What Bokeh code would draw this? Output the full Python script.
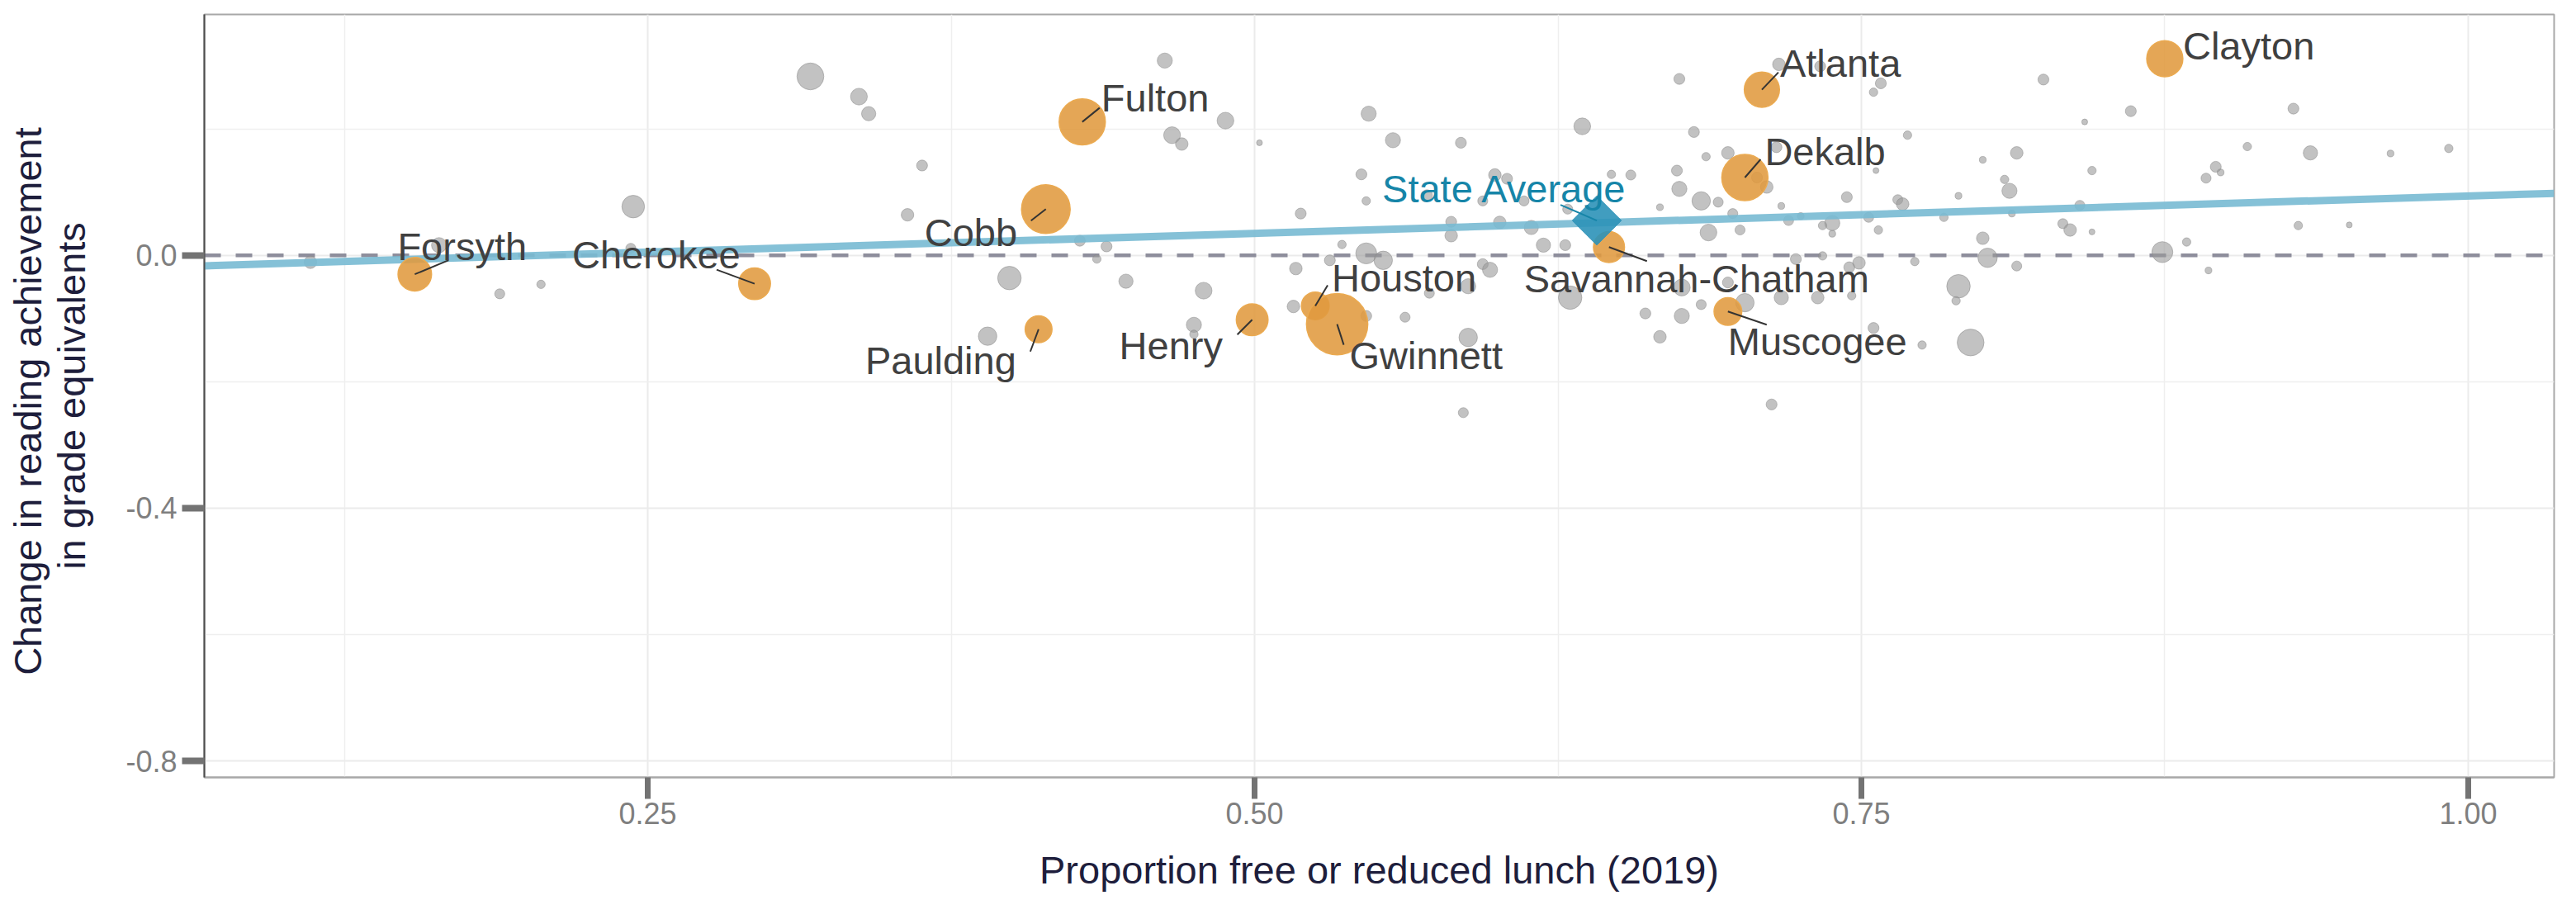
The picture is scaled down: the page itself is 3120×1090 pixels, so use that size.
import numpy as np
from bokeh.plotting import figure
from bokeh.models import Range1d, FixedTicker, PrintfTickFormatter
from bokeh.core.properties import value
from bokeh.embed import file_html
from bokeh.resources import INLINE

# ---------------- data ----------------
gray_frl = [0.111, 0.164, 0.189, 0.206, 0.244, 0.243,
            0.317, 0.337, 0.341, 0.363, 0.357, 0.428, 0.439, 0.435, 0.399, 0.447, 0.390,
            0.463, 0.488, 0.466, 0.470, 0.502, 0.547, 0.557, 0.585, 0.635, 0.544, 0.546,
            0.519, 0.599, 0.604, 0.571, 0.594, 0.611, 0.629, 0.581, 0.601, 0.614, 0.581,
            0.536, 0.619, 0.628, 0.546, 0.553, 0.531, 0.517, 0.594, 0.597, 0.588, 0.572,
            0.630, 0.479, 0.516, 0.546, 0.562, 0.475, 0.475, 0.588, 0.586,
            0.716, 0.733, 0.758, 0.755, 0.675, 0.825, 0.681, 0.769, 0.814, 0.800, 0.842,
            0.695, 0.686, 0.715, 0.674, 0.655, 0.647, 0.675, 0.684, 0.691, 0.667, 0.711,
            0.707, 0.717, 0.697, 0.725, 0.720, 0.738, 0.734, 0.738, 0.753, 0.757, 0.744,
            0.765, 0.767, 0.790, 0.809, 0.811, 0.812, 0.833, 0.836, 0.840, 0.845, 0.687,
            0.700, 0.800, 0.802, 0.814, 0.772, 0.723, 0.734, 0.749, 0.745, 0.695, 0.676,
            0.717, 0.732, 0.746, 0.702, 0.684, 0.790, 0.789, 0.661, 0.676, 0.667, 0.755,
            0.775, 0.795, 0.713, 0.756,
            0.861, 0.928, 0.909, 0.935, 0.968, 0.992, 0.845, 0.896, 0.898, 0.892, 0.930,
            0.951, 0.884, 0.874, 0.893, 0.784]
gray_change = [-0.011, 0.016, -0.061, -0.046, 0.077, 0.011,
               0.283, 0.251, 0.224, 0.142, 0.064, 0.023, 0.014, -0.006, -0.036, -0.041, -0.128,
               0.308, 0.213, 0.190, 0.176, 0.178, 0.224, 0.182, 0.178, 0.204, 0.128, 0.086,
               0.066, 0.127, 0.121, 0.095, 0.086, 0.086, 0.073, 0.053, 0.052, 0.044, 0.031,
               0.017, 0.016, 0.016, 0.003, -0.008, -0.008, -0.021, -0.014, -0.023, -0.049, -0.060,
               -0.067, -0.056, -0.081, -0.096, -0.098, -0.110, -0.125, -0.130, -0.249,
               0.302, 0.299, 0.272, 0.258, 0.279, 0.278, 0.195, 0.190, 0.162, 0.151, 0.211,
               0.162, 0.156, 0.171, 0.134, 0.127, 0.128, 0.105, 0.086, 0.084, 0.076, 0.108,
               0.123, 0.078, 0.066, 0.062, 0.055, 0.051, 0.047, 0.034, 0.060, 0.040, 0.092,
               0.088, 0.081, 0.094, 0.120, 0.102, 0.066, 0.050, 0.040, 0.079, 0.037, 0.036,
               0.040, 0.027, -0.004, -0.017, -0.010, -0.006, -0.001, -0.012, -0.019, -0.043, -0.051,
               -0.067, -0.067, -0.064, -0.075, -0.078, -0.049, -0.072, -0.092, -0.096, -0.129, -0.115,
               -0.142, -0.138, -0.236, 0.134,
               0.228, 0.232, 0.172, 0.162, 0.161, 0.169, 0.134, 0.140, 0.131, 0.122, 0.047,
               0.048, 0.021, 0.005, -0.024, 0.060]
gray_enroll = [6.9, 10.0, 4.4, 3.1, 22.4, 4.4,
               31.5, 12.3, 8.9, 5.2, 6.9, 5.2, 5.2, 3.1, 24.1, 8.9, 14.9,
               10.0, 12.3, 12.3, 6.9, 1.5, 10.0, 10.0, 5.2, 12.3, 5.2, 3.1,
               5.2, 6.9, 5.2, 5.2, 4.4, 4.4, 4.4, 5.2, 6.9, 8.9, 6.9,
               3.1, 8.9, 5.2, 19.2, 14.9, 5.2, 6.9, 5.2, 10.0, 10.0, 4.4,
               24.1, 12.3, 6.9, 5.2, 4.4, 10.0, 3.1, 14.9, 4.4,
               6.9, 5.2, 5.2, 3.1, 5.2, 5.2, 5.2, 3.1, 6.9, 2.0, 1.5,
               6.9, 3.1, 5.2, 5.2, 4.4, 3.1, 10.0, 14.9, 4.4, 2.0, 6.9,
               5.2, 2.0, 4.4, 2.0, 4.4, 10.0, 3.1, 2.0, 4.4, 3.1, 5.2,
               4.4, 6.9, 2.0, 3.1, 10.0, 2.0, 4.4, 6.9, 4.4, 1.5, 12.3,
               4.4, 6.9, 16.3, 4.4, 3.1, 5.2, 3.1, 6.9, 5.2, 5.2, 12.3,
               8.9, 6.9, 3.1, 14.9, 4.4, 24.1, 3.1, 5.2, 10.0, 6.9, 5.2,
               3.1, 31.5, 5.2, 1.5,
               5.2, 5.2, 3.1, 8.9, 2.0, 3.1, 3.1, 5.2, 2.0, 4.4, 3.1,
               1.5, 3.1, 19.2, 2.0, 3.1]

districts = ["Forsyth", "Cherokee", "Cobb", "Fulton", "Paulding", "Henry", "Houston",
             "Gwinnett", "Savannah-Chatham", "Atlanta", "Dekalb", "Muscogee", "Clayton"]
dist_frl = [0.154, 0.294, 0.414, 0.429, 0.411, 0.499, 0.525, 0.534, 0.646, 0.709, 0.702,
            0.695, 0.875]
dist_change = [-0.030, -0.045, 0.073, 0.211, -0.117, -0.102, -0.080, -0.109, 0.013, 0.262,
               0.123, -0.089, 0.311]
dist_enroll = [49, 44, 103, 93, 31.5, 44, 33.5, 164, 42, 54, 93, 33.5, 57]

state_label = "State Average"
state_frl = 0.641
state_change = 0.055

trend_intercept = -0.0246
trend_slope = 0.1184

x_ticks = [0.25, 0.50, 0.75, 1.00]
x_minor = [0.125, 0.375, 0.625, 0.875]
y_ticks = [-0.8, -0.4, 0.0]
y_minor = [-0.6, -0.2, 0.2]

x_title = "Proportion free or reduced lunch (2019)"
y_title = "Change in reading  achievement\nin grade equivalents"

# ---------------- layout / style ----------------
W, H = 3112, 1082
ML, MR, MT, MB = 247, 19, 17, 141
X0, X1 = 0.0673, 1.0354
Y0, Y1 = -0.826, 0.381
FW, FH = W - ML - MR, H - MT - MB
SX, SY = FW / (X1 - X0), FH / (Y1 - Y0)   # pixels per data unit

FONT = "Liberation Sans"
ORANGE = "#E09A3F"
TEAL = "#1685A8"
LABEL_SHIFT = -15   # pixels, applied to every label baseline

def diam(e):
    return 5.8 * np.sqrt(np.asarray(e, dtype=float))

# label placement (pixels: text left/baseline and leader end, relative to point)
label_off = {
    "Forsyth": (-21, -19, 41, -17),
    "Cherokee": (-221, -20, -46, -17),
    "Cobb": (-147, 43, -18, 14),
    "Fulton": (23, -14, 21, -17),
    "Paulding": (-210, 53, -10, 27),
    "Henry": (-161, 46, -18, 18),
    "Houston": (20, -19, 15, -25),
    "Gwinnett": (15, 53, 8, 25),
    "Savannah-Chatham": (-103, 53, 46, 17),
    "Atlanta": (22, -17, 20, -21),
    "Dekalb": (24, -17, 19, -22),
    "Muscogee": (0, 51, 47, 16),
    "Clayton": (22, -1, 0, 0),
}
state_off = (-260, -24, -44, -19)

p = figure(width=W, height=H, output_backend="svg", toolbar_location=None,
           x_range=Range1d(X0, X1), y_range=Range1d(Y0, Y1),
           min_border_left=ML, min_border_right=MR, min_border_top=MT,
           min_border_bottom=MB)
p.background_fill_color = "white"
p.border_fill_color = "white"
p.outline_line_color = "#A8A8A8"
p.outline_line_width = 2

# grids
p.xaxis.ticker = FixedTicker(ticks=x_ticks, minor_ticks=x_minor)
p.yaxis.ticker = FixedTicker(ticks=y_ticks, minor_ticks=y_minor)
for g in (p.xgrid, p.ygrid):
    g.grid_line_color = "#EBEBEB"
    g.grid_line_width = 2
    g.minor_grid_line_color = "#EFEFEF"
    g.minor_grid_line_width = 1.5

# axes
p.xaxis.formatter = PrintfTickFormatter(format="%.2f")
p.yaxis.formatter = PrintfTickFormatter(format="%.1f")
for ax in (p.xaxis, p.yaxis):
    ax.major_tick_in = 0
    ax.minor_tick_line_color = None
    ax.major_tick_line_color = "#737373"
    ax.major_label_text_font = FONT
    ax.major_label_text_font_size = "36px"
    ax.major_label_text_color = "#7F7F7F"
    ax.axis_label_text_font = FONT
    ax.axis_label_text_font_size = "47px"
    ax.axis_label_text_font_style = "normal"
    ax.axis_label_text_color = "#1E1E3C"
p.xaxis.major_tick_out = 26
p.xaxis.major_tick_line_width = 7
p.xaxis.major_label_standoff = 4
p.xaxis.axis_line_color = "#A8A8A8"
p.xaxis.axis_line_width = 2
p.xaxis.axis_label = x_title
p.xaxis.axis_label_standoff = 26
p.yaxis.major_tick_out = 27
p.yaxis.major_tick_line_width = 8
p.yaxis.major_label_standoff = 6
p.yaxis.axis_line_color = "#4D4D4D"
p.yaxis.axis_line_width = 2
p.yaxis.axis_label = y_title
p.yaxis.axis_label_standoff = 36
p.yaxis.axis_label_text_line_height = 1.0

# zero reference line
p.line(x=[X0, X1], y=[0, 0], line_color="#8E8E9C", line_width=4.5, line_dash="20 18")

# other districts
p.scatter(x=gray_frl, y=gray_change, size=diam(gray_enroll), marker="circle",
          fill_color="#999999", fill_alpha=0.6, line_color="#888888", line_alpha=0.5,
          line_width=1)

# trend line
tx = np.array([X0, X1])
p.line(x=tx, y=trend_intercept + trend_slope * tx, line_color="#78BAD3",
       line_width=9, line_alpha=0.9)

# highlighted districts
p.scatter(x=dist_frl, y=dist_change, size=diam(dist_enroll), marker="circle",
          fill_color=ORANGE, fill_alpha=0.88, line_color="#EBAA50", line_width=1.5)

# state average
p.scatter(x=[state_frl], y=[state_change], size=42, marker="square", angle=np.pi / 4,
          fill_color="#2C92B8", fill_alpha=0.9, line_color="#2C92B8")

# leader lines and labels
lx0, ly0, lx1, ly1, tx_, ty_, names = [], [], [], [], [], [], []
for name, fx, fy in zip(districts, dist_frl, dist_change):
    dx, dy, ex, ey = label_off[name]
    dy += LABEL_SHIFT
    if ex or ey:
        lx0.append(fx); ly0.append(fy)
        lx1.append(fx + ex / SX); ly1.append(fy - ey / SY)
    tx_.append(fx + dx / SX); ty_.append(fy - dy / SY); names.append(name)
p.segment(x0=lx0, y0=ly0, x1=lx1, y1=ly1, line_color="#333333", line_width=2)
p.text(x=tx_, y=ty_, text=names, text_font=value(FONT), text_font_size="47px",
       text_color="#404040", text_align="left", text_baseline="alphabetic")

dx, dy, ex, ey = state_off
dy += LABEL_SHIFT
p.segment(x0=[state_frl], y0=[state_change], x1=[state_frl + ex / SX],
          y1=[state_change - ey / SY], line_color=TEAL, line_width=2)
p.text(x=[state_frl + dx / SX], y=[state_change - dy / SY], text=[state_label],
       text_font=value(FONT), text_font_size="47px", text_color=TEAL,
       text_align="left", text_baseline="alphabetic")

open("out.html", "w").write(file_html(p, INLINE))
